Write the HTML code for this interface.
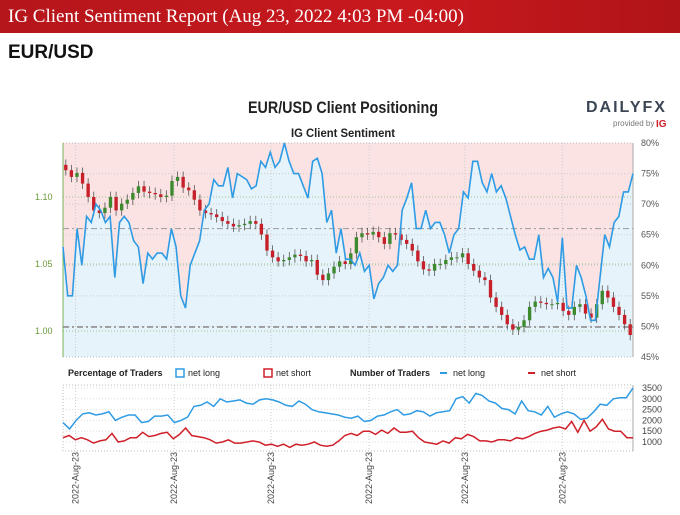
<!DOCTYPE html>
<html><head><meta charset="utf-8">
<style>
body{margin:0;width:680px;height:515px;background:#fff;overflow:hidden;font-family:"Liberation Sans",sans-serif;}
#hdr{position:absolute;left:0;top:0;width:680px;height:33px;background:linear-gradient(90deg,#b5161b,#c8191e 60%,#b01418);color:#fff;font-family:"Liberation Serif",serif;font-size:19px;line-height:33px;padding-left:8px;box-sizing:border-box;}
#pair{position:absolute;left:8px;top:42px;font-size:19px;font-weight:bold;color:#111;}
svg{position:absolute;left:0;top:0;}
</style></head><body>
<div id="hdr">IG Client Sentiment Report (Aug 23, 2022 4:03 PM -04:00)</div>
<div id="pair">EUR/USD</div>
<svg id="c" width="680" height="515"></svg>
<script>
const pctLong=[63,55,55,66,60,68,67,70,69,67,68,58,67,68,67,64,63,57,62,61,62,62,61,66,63,55,53,60,62,64,69,70,74,73,73,76,71,75,74.5,74,72.5,73,77,76,78.5,76,77,80,77,75,75,73,71,77,77.5,75,67,69,62,66,61,61,60,62,59,60,54.5,57,58,60,59,60,69,71,73.5,66,66,69,66,67,67,65,62,65,66,72,71,77,77,73.5,72,75,72,73,71,68,65,62.5,63,61,61,65,58,59.5,58,54,64.5,53,53,60,58,55,51,51,58,65,63,67,68,72,72,75];
const closes=[1.12,1.115,1.118,1.11,1.10,1.09,1.088,1.092,1.10,1.09,1.095,1.098,1.103,1.108,1.104,1.103,1.102,1.10,1.101,1.112,1.115,1.107,1.105,1.098,1.09,1.088,1.087,1.085,1.082,1.08,1.078,1.079,1.08,1.082,1.08,1.072,1.06,1.055,1.052,1.053,1.055,1.057,1.056,1.052,1.053,1.042,1.038,1.043,1.048,1.052,1.05,1.058,1.07,1.073,1.072,1.074,1.07,1.065,1.073,1.072,1.068,1.065,1.06,1.052,1.046,1.045,1.05,1.05,1.053,1.055,1.055,1.058,1.05,1.045,1.04,1.038,1.025,1.018,1.012,1.005,1.001,1.003,1.008,1.018,1.022,1.021,1.02,1.02,1.021,1.015,1.012,1.018,1.02,1.013,1.01,1.02,1.03,1.025,1.018,1.012,1.005,0.997];
const numLong=[1900,1600,2000,2300,2350,2250,2300,2400,2000,2150,2250,2250,1900,1950,2200,2200,2250,1900,2000,2150,2650,2700,2850,2650,3000,2850,2900,2950,2800,2750,2950,3000,2950,2850,2700,2650,2900,2750,2500,2400,2350,2300,2250,2150,2100,2200,1950,2000,2200,2250,2400,2500,2250,2300,2450,2400,2200,2350,2400,2450,3000,3100,2800,3250,3150,2900,2800,2550,2500,2300,2900,2450,2400,2250,2650,2150,2300,2400,2300,2050,2100,2400,2750,2700,3000,3050,3050,3500];
const numShort=[1200,1300,1100,1200,1100,950,1050,1100,1400,1000,1050,1200,1200,1450,1250,1300,1400,1450,1150,1350,1650,1300,1250,1200,1100,950,1000,1100,950,950,1000,1050,1000,850,900,800,900,750,900,850,900,1000,850,800,850,1050,1300,1400,1300,1500,1500,1350,1550,1400,1650,1450,1450,1500,1200,1000,950,900,1050,950,1200,1150,1350,1250,1050,1050,1000,1100,1100,1050,1200,1150,1250,1400,1500,1550,1650,1700,1600,1950,1450,2000,1500,1700,2050,1600,1500,1500,1200,1200];
const priceTicks=[1.00,1.05,1.10];
const pctTicks=[45,50,55,60,65,70,75,80];
const countTicks=[1000,1500,2000,2500,3000,3500];
const dateLabels=["2022-Aug-23","2022-Aug-23","2022-Aug-23","2022-Aug-23","2022-Aug-23","2022-Aug-23"];
const dateFrac=[0.022,0.195,0.365,0.537,0.705,0.876];
const NS='http://www.w3.org/2000/svg';
const svg=document.getElementById('c');
function mk(t,a,p){const e=document.createElementNS(NS,t);for(const k in a)e.setAttribute(k,a[k]);(p||svg).appendChild(e);return e;}
const L=63,R=633,T=143,B=357;
const xF=f=>L+f*(R-L);
const yP=p=>T+(80-p)/35*(B-T);
const yPr=v=>331-(v-1.0)/0.05*67;
const T2=385,B2=451;
const yC=v=>442-(v-1000)/2500*54;
let t=mk('text',{x:343,y:113,'text-anchor':'middle','font-size':17,'font-weight':'bold',fill:'#222',textLength:190,lengthAdjust:'spacingAndGlyphs'});t.textContent='EUR/USD Client Positioning';

t=mk('text',{x:343,y:137,'text-anchor':'middle','font-size':12,'font-weight':'bold',fill:'#222',textLength:104,lengthAdjust:'spacingAndGlyphs'});t.textContent='IG Client Sentiment';

t=mk('text',{x:586,y:112,'font-size':16,'font-weight':'bold',fill:'#3d4654','letter-spacing':'2'});t.textContent='DAILYFX';

t=mk('text',{x:613,y:126,'font-size':8,fill:'#777'});t.textContent='provided by';

t=mk('text',{x:656,y:127,'font-size':10,'font-weight':'bold',fill:'#d0202a'});t.textContent='IG';

let r=mk('rect',{x:L,y:T,width:R-L,height:B-T,fill:'#fbe3e3'});

const n=pctLong.length;
let pts=pctLong.map((v,i)=>[xF(i/(n-1)),yP(v)]);
let d='M'+L+','+B+' '+pts.map(p=>'L'+p[0].toFixed(1)+','+p[1].toFixed(1)).join(' ')+' L'+R+','+B+'Z';
let a=mk('path',{d:d,fill:'#e6f3fb'});

pctTicks.forEach(p=>{mk('line',{x1:L,x2:R,y1:yP(p),y2:yP(p),stroke:'#ccc','stroke-dasharray':'1,2'});
 const tx=mk('text',{x:R+8,y:yP(p)+3,'font-size':9,fill:'#555'});tx.textContent=p+'%';
 });
priceTicks.forEach(p=>{mk('line',{x1:L,x2:R,y1:yPr(p),y2:yPr(p),stroke:'#9bc48a','stroke-dasharray':'1,2'});
 const tx=mk('text',{x:L-28,y:yPr(p)+3,'font-size':9,fill:'#6a9a3a'});tx.textContent=p.toFixed(2);
 });
dateFrac.forEach(f=>{mk('line',{x1:xF(f),x2:xF(f),y1:T,y2:B,stroke:'#ccc','stroke-dasharray':'1,2'});mk('line',{x1:xF(f),x2:xF(f),y1:T2,y2:B2,stroke:'#ccc','stroke-dasharray':'1,2'});});
mk('rect',{x:L,y:T,width:R-L,height:B-T,fill:'none',stroke:'#bbb','stroke-dasharray':'1,2'});
mk('line',{x1:L,x2:L,y1:T,y2:B,stroke:'#7bb35a'});
mk('line',{x1:R,x2:R,y1:T,y2:B,stroke:'#aaa'});
mk('line',{x1:L,x2:R,y1:yP(66),y2:yP(66),stroke:'#999','stroke-dasharray':'6,3,2,3'});
mk('line',{x1:L,x2:R,y1:yPr(1.003),y2:yPr(1.003),stroke:'#888','stroke-width':1.5,'stroke-dasharray':'6,3,2,3'});
const m=closes.length,cw=(R-L)/m*0.6;
closes.forEach((c,i)=>{const o=i?closes[i-1]:c+0.004;const x=xF((i+0.5)/m);
 const hi=Math.max(o,c)+0.004,lo=Math.min(o,c)-0.004;
 mk('line',{x1:x,x2:x,y1:yPr(hi),y2:yPr(lo),stroke:'#555','stroke-width':0.8});
 const cd=mk('rect',{x:x-cw/2,y:yPr(Math.max(o,c)),width:cw,height:Math.max(1,Math.abs(yPr(o)-yPr(c))),fill:c>=o?'#3d8a2e':'#c8202a'});
 });
let ln=mk('polyline',{points:pts.map(p=>p.join(',')).join(' '),fill:'none',stroke:'#2e9be4','stroke-width':1.6});

function lt(x,s,bold,name){const e=mk('text',{x:x,y:376,'font-size':9,'font-weight':bold?'bold':'normal',fill:'#222'});e.textContent=s;
 }
lt(68,'Percentage of Traders',1,'legend-pct-title');
mk('rect',{x:176,y:369,width:8,height:8,fill:'none',stroke:'#2e9be4','stroke-width':1.5});lt(188,'net long',0,'legend-pct-long');
mk('rect',{x:264,y:369,width:8,height:8,fill:'none',stroke:'#d0202a','stroke-width':1.5});lt(276,'net short',0,'legend-pct-short');
lt(350,'Number of Traders',1,'legend-count-title');
mk('line',{x1:440,x2:447,y1:373,y2:373,stroke:'#2e9be4','stroke-width':2});lt(453,'net long',0,'legend-count-long');
mk('line',{x1:528,x2:535,y1:373,y2:373,stroke:'#d0202a','stroke-width':2});lt(541,'net short',0,'legend-count-short');
mk('rect',{x:L,y:T2,width:R-L,height:B2-T2,fill:'none',stroke:'#bbb','stroke-dasharray':'1,2'});
countTicks.forEach(v=>{mk('line',{x1:L,x2:R,y1:yC(v),y2:yC(v),stroke:'#ddd','stroke-dasharray':'1,2'});
 const tx=mk('text',{x:R+9,y:yC(v)+3,'font-size':9,fill:'#444'});tx.textContent=v;
 });
mk('line',{x1:R,x2:R,y1:T2,y2:B2,stroke:'#aaa'});
function series(arr,col,name){const k=arr.length;const p=mk('polyline',{points:arr.map((v,i)=>xF(i/(k-1)).toFixed(1)+','+yC(v).toFixed(1)).join(' '),fill:'none',stroke:col,'stroke-width':1.5});
 }
series(numLong,'#2e9be4','net-long-count-line');
series(numShort,'#d0202a','net-short-count-line');
dateLabels.forEach((s,i)=>{const x=xF(dateFrac[i])+3;const e=mk('text',{x:x,y:504,'font-size':9,fill:'#444',transform:'rotate(-90 '+x+' 504)'});e.textContent=s;
 });
</script>
</body></html>
